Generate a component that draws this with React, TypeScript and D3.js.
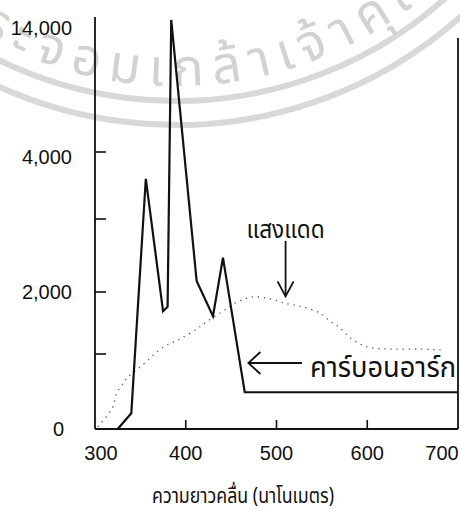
import React from "react";
import * as d3 from "d3";

// ---- data ----
const xTickLabels = [300, 400, 500, 600, 700];
const xTickMarks = [400, 500, 600];
const yTickMarks = [1000, 2000, 3000, 4000];
const yTickLabels = [0, 2000, 4000, 14000];

// carbon arc (solid)
const carbonWl = [325, 340, 356, 375, 380, 384, 412, 430, 441, 465, 700];
const carbonVal = [0, 210, 3600, 1690, 1760, 14650, 2150, 1610, 2470, 490, 490];

// sunlight (dotted)
const sunWl = [303, 306, 319, 324, 330, 336, 347, 355, 375, 392, 412, 421, 441, 457, 474, 493, 509, 529, 548, 559, 570, 583, 601, 625, 656, 684];
const sunVal = [30, 70, 280, 480, 590, 690, 800, 880, 1110, 1230, 1400, 1500, 1690, 1840, 1920, 1890, 1820, 1760, 1660, 1530, 1420, 1240, 1110, 1080, 1080, 1065];

const xTitle = "ความยาวคลื่น (นาโนเมตร)";
const sunLabel = "แสงแดด";
const carbonLabel = "คาร์บอนอาร์ก";
const watermarkText = "ระจอมเกล้าเจ้าคุณ";

const W = 460;
const H = 511;

export default function App() {
  const x = d3.scaleLinear().domain([300, 700]).range([95, 458]);
  const y = d3
    .scaleLinear()
    .domain([0, 1000, 2000, 3000, 4000, 14000])
    .range([429, 354, 292, 219, 152, 28]);

  const carbon = carbonWl.map((w, i) => [x(w), y(carbonVal[i])] as [number, number]);
  const sun = sunWl.map((w, i) => [x(w), y(sunVal[i])] as [number, number]);

  const solidLine = d3.line().curve(d3.curveLinear)(carbon) || "";
  const dotLine = d3.line().curve(d3.curveCatmullRom)(sun) || "";

  const fmt = d3.format(",");
  const numFont = "'Liberation Sans', Arial, sans-serif";
  const thaiFont = "'Noto Sans Thai', 'Noto Sans', 'DejaVu Sans', sans-serif";

  // watermark arcs
  const cx = 176, cy = -303;
  const arcPath = (r: number, x0: number, x1: number) => {
    const y0 = cy + Math.sqrt(r * r - (x0 - cx) ** 2);
    const y1 = cy + Math.sqrt(r * r - (x1 - cx) ** 2);
    return `M${x0},${y0} A${r},${r} 0 0 0 ${x1},${y1}`;
  };

  // annotation anchors
  const sunArrowX = x(510);
  const sunArrowTop = y(2700);
  const sunArrowTip = y(1930);
  const caTipX = x(469);
  const caY = y(880);
  const caTailX = x(528);

  return (
    <svg width={W} height={H} style={{ position: "absolute", left: 0, top: 0, background: "#fff" }}>
      <defs>
        <path id="wmText" d={arcPath(389, -60, 550)} />
      </defs>
      {/* watermark */}
      <g>
        <path d={arcPath(404, -30, 550)} fill="none" stroke="#d8d8d8" strokeWidth={6} />
        <path d={arcPath(428, -30, 550)} fill="none" stroke="#d8d8d8" strokeWidth={6} />
        <text fill="#d2d2d2" fontFamily={thaiFont} fontSize={52} letterSpacing={9.5}>
          <textPath href="#wmText" startOffset={46}>
            {watermarkText}
          </textPath>
        </text>
      </g>

      {/* frame */}
      <line x1={95} x2={95} y1={17} y2={429} stroke="#111" strokeWidth={1.8} />
      <line x1={95} x2={458} y1={429} y2={429} stroke="#111" strokeWidth={1.8} />
      <line x1={458} x2={458} y1={38} y2={429} stroke="#111" strokeWidth={1.8} />

      {/* y ticks */}
      {yTickMarks.map((v) => (
        <line key={"yt" + v} x1={95} x2={106} y1={y(v)} y2={y(v)} stroke="#111" strokeWidth={1.6} />
      ))}
      {/* x ticks */}
      {xTickMarks.map((v) => (
        <line key={"xt" + v} x1={x(v)} x2={x(v)} y1={429} y2={420} stroke="#111" strokeWidth={1.6} />
      ))}

      {/* y labels */}
      {yTickLabels.map((v) => (
        <text
          key={"yl" + v}
          x={v === 0 ? 64 : 72}
          y={y(v) + (v === 4000 ? 5 : 0)}
          textAnchor="end"
          dominantBaseline="central"
          fontFamily={numFont}
          fontSize={20}
          fill="#111"
        >
          {fmt(v)}
        </text>
      ))}

      {/* x labels */}
      {xTickLabels.map((v) => (
        <text
          key={"xl" + v}
          x={x(v) + (v === 300 ? 6 : v === 700 ? -16 : 0)}
          y={453}
          textAnchor="middle"
          dominantBaseline="central"
          fontFamily={numFont}
          fontSize={20}
          fill="#111"
        >
          {v}
        </text>
      ))}

      {/* x title */}
      <text x={243} y={503} textAnchor="middle" fontFamily={thaiFont} fontSize={21} textLength={182} lengthAdjust="spacingAndGlyphs" fill="#111">
        {xTitle}
      </text>

      {/* sunlight dotted */}
      <path d={dotLine} fill="none" stroke="#555" strokeWidth={1.3} strokeDasharray="1.3 4.8" />

      {/* carbon arc solid */}
      <path d={solidLine} fill="none" stroke="#111" strokeWidth={2.2} strokeLinejoin="miter" />

      {/* sunlight annotation */}
      <text x={sunArrowX - 39} y={238} textAnchor="start" fontFamily={thaiFont} fontSize={24} textLength={78} lengthAdjust="spacingAndGlyphs" fill="#111">
        {sunLabel}
      </text>
      <line x1={sunArrowX} x2={sunArrowX} y1={sunArrowTop} y2={sunArrowTip} stroke="#111" strokeWidth={1.8} />
      <path
        d={`M${sunArrowX - 8},${sunArrowTip - 15} L${sunArrowX},${sunArrowTip} L${sunArrowX + 8},${sunArrowTip - 15}`}
        fill="none"
        stroke="#111"
        strokeWidth={1.8}
      />

      {/* carbon arc annotation */}
      <line x1={caTipX} x2={caTailX} y1={caY} y2={caY} stroke="#111" strokeWidth={1.8} />
      <path
        d={`M${caTipX + 12},${caY - 11} L${caTipX},${caY} L${caTipX + 12},${caY + 11}`}
        fill="none"
        stroke="#111"
        strokeWidth={1.8}
      />
      <text x={310} y={377} textAnchor="start" fontFamily={thaiFont} fontSize={28} textLength={146} lengthAdjust="spacingAndGlyphs" fill="#111">
        {carbonLabel}
      </text>
    </svg>
  );
}
